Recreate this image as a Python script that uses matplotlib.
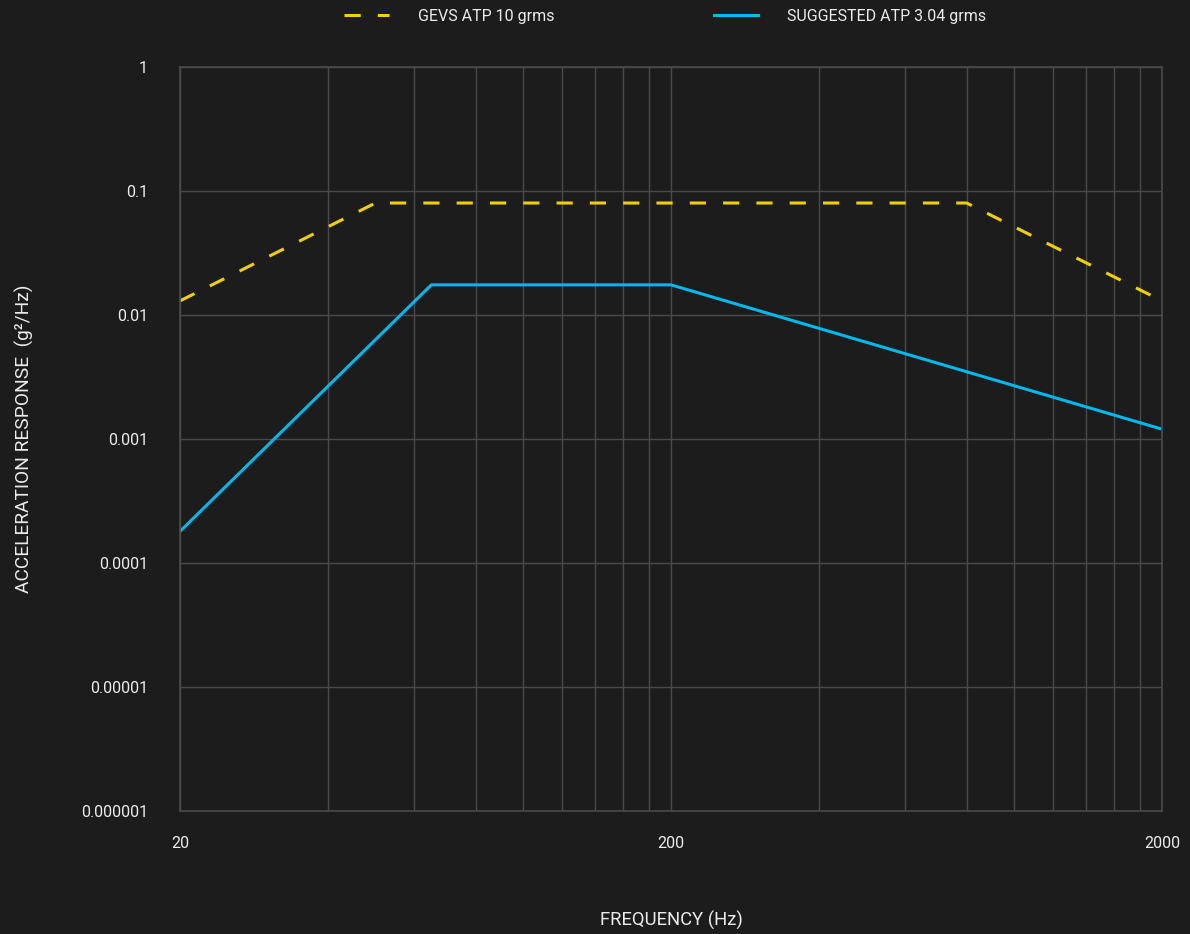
import matplotlib
matplotlib.use("Agg")
import matplotlib.pyplot as plt
from matplotlib.ticker import FixedLocator, NullFormatter, NullLocator

# ---- data ----
gevs_freq = [20, 50, 800, 2000]
gevs_psd = [0.013, 0.08, 0.08, 0.013]
suggested_freq = [20, 65, 200, 2000]
suggested_psd = [0.00018, 0.0175, 0.0175, 0.0012]

gevs_label = "GEVS ATP 10 grms"
suggested_label = "SUGGESTED ATP 3.04 grms"

x_ticks = [20, 200, 2000]
x_ticklabels = ["20", "200", "2000"]
x_minor = [40, 60, 80, 100, 120, 140, 160, 180, 400, 600, 800, 1000, 1200, 1400, 1600, 1800]
y_ticks = [1e-6, 1e-5, 1e-4, 1e-3, 1e-2, 1e-1, 1]
y_ticklabels = ["0.000001", "0.00001", "0.0001", "0.001", "0.01", "0.1", "1"]

x_title = "FREQUENCY (Hz)"
y_title = "ACCELERATION RESPONSE  (g\u00b2/Hz)"

# ---- style ----
plt.rcParams["font.family"] = ["Roboto", "DejaVu Sans"]

BG = "#1c1c1c"
GRID = "#4a4a4a"
TXT = "#ececec"
YEL = "#f0d000"
CYA = "#00b9ec"

fig = plt.figure(figsize=(11.9, 9.34), dpi=100, facecolor=BG)
ax = fig.add_axes([180/1190, 1-811/934, (1162-180)/1190, (811-67)/934])
ax.set_facecolor(BG)

ax.plot(gevs_freq, gevs_psd, color=YEL, lw=2.2, dashes=(5.3, 5.6), label=gevs_label)
ax.plot(suggested_freq, suggested_psd, color=CYA, lw=2.2, label=suggested_label)

ax.set_xscale("log")
ax.set_yscale("log")
ax.set_xlim(20, 2000)
ax.set_ylim(1e-6, 1)

ax.xaxis.set_major_locator(FixedLocator(x_ticks))
ax.set_xticklabels(x_ticklabels)
ax.xaxis.set_minor_locator(FixedLocator(x_minor))
ax.xaxis.set_minor_formatter(NullFormatter())
ax.yaxis.set_major_locator(FixedLocator(y_ticks))
ax.set_yticklabels(y_ticklabels)
ax.yaxis.set_minor_locator(NullLocator())

ax.grid(True, which="both", axis="x", color=GRID, lw=1)
ax.grid(True, which="major", axis="y", color=GRID, lw=1)
ax.set_axisbelow(True)

for s in ax.spines.values():
    s.set_color(GRID)
    s.set_linewidth(1.2)

ax.tick_params(axis="both", which="both", length=0, colors=TXT, labelsize=11.5)
ax.tick_params(axis="y", pad=23)
ax.tick_params(axis="x", pad=18)

ax.set_xlabel(x_title, color=TXT, fontsize=13.3, labelpad=43)
ax.set_ylabel(y_title, color=TXT, fontsize=13.8, labelpad=34)

leg = fig.legend(loc="center", bbox_to_anchor=(0.559, 1-16/934), ncol=2, frameon=False,
                 fontsize=11.5, labelcolor=TXT, handlelength=2.8, handletextpad=1.8,
                 columnspacing=10.0)

fig.savefig("out.png", dpi=100, facecolor=BG)
